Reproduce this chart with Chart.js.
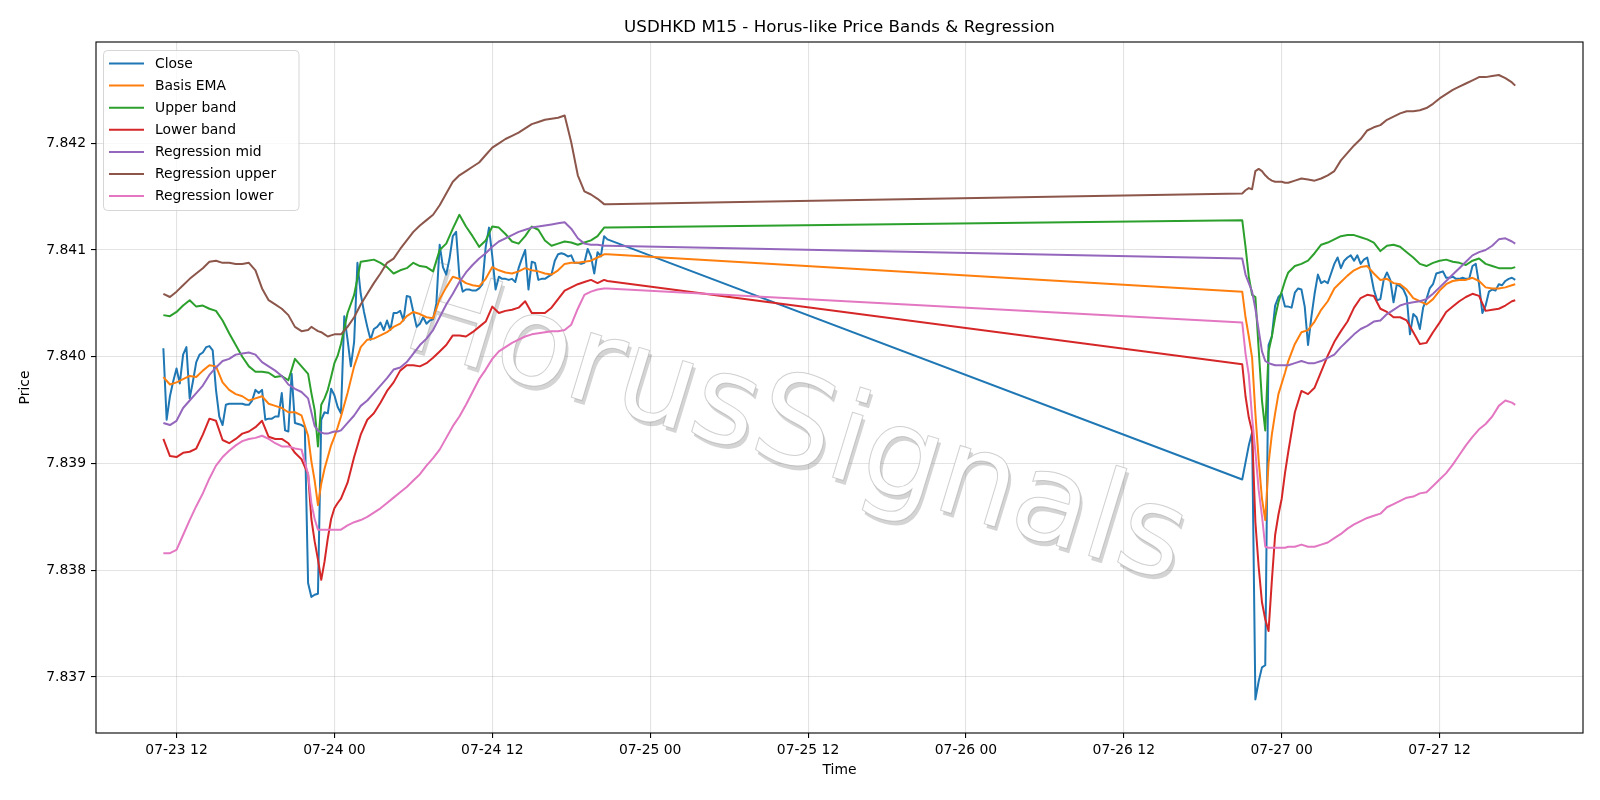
<!DOCTYPE html>
<html>
<head>
<meta charset="utf-8">
<script src="https://cdn.jsdelivr.net/npm/chart.js@4.4.1/dist/chart.umd.min.js"></script>
<style>html,body{margin:0;padding:0;background:#fff}canvas{display:block}</style>
</head>
<body>
<canvas id="c" width="1600" height="800" style="width:1600px;height:800px"></canvas>
<script>
// ---------- texts ----------
const titleText = 'USDHKD M15 - Horus-like Price Bands & Regression';
const xAxisTitle = 'Time';
const yAxisTitle = 'Price';
const watermarkText = 'HorusSignals';
const seriesNames = ['Close','Basis EMA','Upper band','Lower band','Regression mid','Regression upper','Regression lower'];

// ---------- axis ticks (x in hours since 07-23 00:00) ----------
const tickHours = [12,24,36,48,60,72,84,96,108];
const tickLabels = ['07-23 12','07-24 00','07-24 12','07-25 00','07-25 12','07-26 00','07-26 12','07-27 00','07-27 12'];
const priceTicks = [7.837,7.838,7.839,7.840,7.841,7.842];

// ---------- Close (15-minute bars) ----------
const closeHours = [
 11,11.25,11.5,11.75,12,12.25,12.5,12.75,13,13.25,13.5,13.75,14,14.25,14.5,14.75,15,15.25,15.5,15.75,16,16.25,16.5,16.75,
 17,17.25,17.5,17.75,18,18.25,18.5,18.75,19,19.25,19.5,19.75,20,20.25,20.5,20.75,21,21.25,21.5,21.75,22,22.25,22.5,22.75,
 23,23.25,23.5,23.75,24,24.25,24.5,24.75,25,25.25,25.5,25.75,26,26.25,26.5,26.75,27,27.25,27.5,27.75,28,28.25,28.5,28.75,
 29,29.25,29.5,29.75,30,30.25,30.5,30.75,31,31.25,31.5,31.75,32,32.25,32.5,32.75,33,33.25,33.5,33.75,34,34.25,34.5,34.75,
 35,35.25,35.5,35.75,36,36.25,36.5,36.75,37,37.25,37.5,37.75,38,38.25,38.5,38.75,39,39.25,39.5,39.75,40,40.25,40.5,40.75,
 41,41.25,41.5,41.75,42,42.25,42.5,42.75,43,43.25,43.5,43.75,44,44.25,44.5,44.75,
 93,93.25,93.5,93.75,94,94.25,94.5,94.75,95,95.25,95.5,95.75,96,96.25,96.5,96.75,97,97.25,97.5,97.75,98,98.25,98.5,98.75,
 99,99.25,99.5,99.75,100,100.25,100.5,100.75,101,101.25,101.5,101.75,102,102.25,102.5,102.75,103,103.25,103.5,103.75,104,104.25,104.5,104.75,
 105,105.25,105.5,105.75,106,106.25,106.5,106.75,107,107.25,107.5,107.75,108,108.25,108.5,108.75,109,109.25,109.5,109.75,110,110.25,110.5,110.75,
 111,111.25,111.5,111.75,112,112.25,112.5,112.75,113,113.25,113.5,113.75
];
const closePrice = [
 7.84008,7.83941,7.83963,7.83977,7.83989,7.83975,7.84002,7.84009,7.83961,7.83977,7.83995,7.84002,7.84004,7.84009,7.84010,7.84006,7.83969,7.83944,7.83936,7.83955,7.83956,7.83956,7.83956,7.83956,
 7.83956,7.83955,7.83955,7.83959,7.83969,7.83966,7.83969,7.83941,7.83942,7.83942,7.83944,7.83944,7.83966,7.83931,7.83930,7.83984,7.83938,7.83937,7.83936,7.83934,7.83788,7.83775,7.83777,7.83778,
 7.83941,7.83948,7.83947,7.83970,7.83964,7.83953,7.83947,7.84038,7.84016,7.83991,7.84014,7.84088,7.84059,7.84042,7.84028,7.84016,7.84026,7.84028,7.84032,7.84025,7.84034,7.84025,7.84041,7.84041,
 7.84043,7.84034,7.84057,7.84056,7.84042,7.84028,7.84031,7.84037,7.84031,7.84034,7.84035,7.84050,7.84105,7.84084,7.84077,7.84092,7.84113,7.84117,7.84075,7.84061,7.84063,7.84063,7.84062,7.84062,
 7.84064,7.84068,7.84103,7.84121,7.84094,7.84063,7.84075,7.84073,7.84073,7.84072,7.84073,7.84070,7.84083,7.84092,7.84100,7.84063,7.84089,7.84088,7.84072,7.84073,7.84073,7.84075,7.84077,7.84090,
 7.84096,7.84097,7.84096,7.84094,7.84095,7.84088,7.84088,7.84087,7.84088,7.84101,7.84094,7.84078,7.84098,7.84094,7.84113,7.84110,
 7.83885,7.83901,7.83917,7.83929,7.83679,7.83696,7.83709,7.83711,7.84011,7.84019,7.84048,7.84056,7.84059,7.84047,7.84047,7.84046,7.84060,7.84064,7.84063,7.84047,7.84011,7.84037,7.84059,7.84077,
 7.84069,7.84071,7.84069,7.84078,7.84087,7.84093,7.84083,7.84090,7.84093,7.84095,7.84090,7.84095,7.84087,7.84091,7.84093,7.84079,7.84063,7.84053,7.84054,7.84072,7.84079,7.84072,7.84051,7.84068,
 7.84066,7.84063,7.84056,7.84021,7.84040,7.84037,7.84026,7.84046,7.84054,7.84064,7.84068,7.84078,7.84079,7.84080,7.84074,7.84074,7.84075,7.84073,7.84073,7.84074,7.84073,7.84073,7.84085,7.84087,
 7.84068,7.84041,7.84048,7.84061,7.84063,7.84062,7.84068,7.84067,7.84071,7.84073,7.84074,7.84072
];

// ---------- bands & regression (sampled times) ----------
const bandHours = [
 11,11.5,12,12.5,13,13.5,14,14.5,15,15.5,16,16.5,17,17.5,18,18.5,19,19.5,20,20.5,21,21.5,22,
 22.25,22.5,22.75,23,23.25,23.5,23.75,24,24.25,24.5,
 25,25.5,26,26.5,27,27.5,28,28.5,29,29.5,30,30.5,31,31.5,32,32.5,33,33.5,34,34.5,35,35.5,36,36.5,37,37.5,38,38.5,39,39.5,40,40.5,41,41.5,42,42.5,43,43.5,44,44.5,44.75,
 93,93.25,93.5,93.75,94,94.25,94.5,94.75,95,95.25,95.5,95.75,96,96.25,96.5,
 97,97.5,98,98.5,99,99.5,100,100.5,101,101.5,102,102.5,103,103.5,104,104.5,105,105.5,106,106.5,107,107.5,108,108.5,109,109.5,110,110.5,111,111.5,112,112.5,113,113.5,113.75
];
const basisEma = [
 7.83981,7.83974,7.83976,7.83979,7.83982,7.83981,7.83987,7.83992,7.83991,7.83976,7.83969,7.83965,7.83963,7.83959,7.83961,7.83963,7.83956,7.83954,7.83952,7.83948,7.83948,7.83945,7.83926,
 7.83902,7.83884,7.83861,7.83881,7.83895,7.83906,7.83917,7.83925,7.83934,7.83944,
 7.83966,7.83991,7.84009,7.84016,7.84017,7.84020,7.84023,7.84028,7.84031,7.84038,7.84042,7.84040,7.84037,7.84036,7.84054,7.84065,7.84075,7.84073,7.84069,7.84067,7.84066,7.84073,7.84084,7.84081,7.84079,7.84078,7.84080,7.84083,7.84081,7.84080,7.84078,7.84077,7.84081,7.84087,7.84088,7.84088,7.84089,7.84090,7.84093,7.84096,7.84096,
 7.84061,7.84037,7.84019,7.83999,7.83947,7.83903,7.83867,7.83847,7.83900,7.83927,7.83947,7.83965,7.83975,7.83985,7.83996,
 7.84012,7.84023,7.84025,7.84033,7.84044,7.84052,7.84064,7.84070,7.84076,7.84081,7.84084,7.84085,7.84078,7.84072,7.84073,7.84069,7.84068,7.84063,7.84055,7.84052,7.84049,7.84054,7.84062,7.84068,7.84071,7.84072,7.84072,7.84074,7.84071,7.84065,7.84064,7.84064,7.84065,7.84067,7.84068
];
const upperBand = [
 7.84039,7.84038,7.84042,7.84048,7.84053,7.84047,7.84048,7.84045,7.84043,7.84034,7.84022,7.84011,7.84000,7.83991,7.83986,7.83986,7.83985,7.83981,7.83982,7.83978,7.83998,7.83991,7.83984,
 7.83966,7.83950,7.83916,7.83955,7.83961,7.83969,7.83981,7.83994,7.84001,7.84012,
 7.84041,7.84058,7.84089,7.84090,7.84091,7.84088,7.84084,7.84078,7.84081,7.84083,7.84088,7.84085,7.84084,7.84080,7.84100,7.84106,7.84120,7.84133,7.84122,7.84113,7.84103,7.84109,7.84122,7.84121,7.84115,7.84108,7.84106,7.84113,7.84122,7.84119,7.84109,7.84104,7.84106,7.84108,7.84107,7.84105,7.84107,7.84109,7.84113,7.84121,7.84121,
 7.84128,7.84103,7.84075,7.84058,7.84056,7.84007,7.83959,7.83931,7.84005,7.84019,7.84037,7.84051,7.84061,7.84071,7.84079,
 7.84085,7.84087,7.84090,7.84097,7.84105,7.84107,7.84110,7.84113,7.84114,7.84114,7.84112,7.84110,7.84107,7.84099,7.84104,7.84105,7.84103,7.84098,7.84093,7.84087,7.84085,7.84088,7.84090,7.84091,7.84089,7.84088,7.84086,7.84090,7.84092,7.84087,7.84085,7.84083,7.84083,7.84083,7.84084
];
const lowerBand = [
 7.83923,7.83907,7.83906,7.83910,7.83911,7.83914,7.83927,7.83942,7.83940,7.83922,7.83919,7.83923,7.83928,7.83930,7.83934,7.83940,7.83925,7.83923,7.83923,7.83919,7.83910,7.83904,7.83890,
 7.83848,7.83827,7.83810,7.83791,7.83808,7.83830,7.83848,7.83858,7.83863,7.83867,
 7.83882,7.83906,7.83927,7.83941,7.83947,7.83957,7.83968,7.83976,7.83987,7.83992,7.83992,7.83991,7.83994,7.83999,7.84005,7.84011,7.84020,7.84020,7.84019,7.84023,7.84028,7.84033,7.84047,7.84041,7.84043,7.84044,7.84046,7.84052,7.84041,7.84041,7.84041,7.84046,7.84054,7.84062,7.84065,7.84068,7.84070,7.84072,7.84069,7.84072,7.84071,
 7.83993,7.83963,7.83943,7.83930,7.83845,7.83803,7.83770,7.83754,7.83743,7.83790,7.83833,7.83852,7.83867,7.83891,7.83911,
 7.83948,7.83968,7.83965,7.83971,7.83986,7.84001,7.84014,7.84024,7.84033,7.84046,7.84055,7.84058,7.84057,7.84045,7.84042,7.84037,7.84037,7.84034,7.84023,7.84012,7.84013,7.84023,7.84032,7.84042,7.84047,7.84052,7.84056,7.84059,7.84057,7.84043,7.84044,7.84045,7.84048,7.84052,7.84053
];
const regMid = [
 7.83938,7.83936,7.83940,7.83952,7.83959,7.83966,7.83973,7.83983,7.83990,7.83996,7.83998,7.84002,7.84003,7.84004,7.84002,7.83995,7.83991,7.83987,7.83982,7.83974,7.83970,7.83967,7.83961,
 7.83948,7.83935,7.83931,7.83929,7.83928,7.83928,7.83929,7.83930,7.83930,7.83931,
 7.83938,7.83945,7.83954,7.83959,7.83966,7.83973,7.83980,7.83988,7.83990,7.83995,7.84003,7.84011,7.84017,7.84025,7.84037,7.84049,7.84059,7.84070,7.84079,7.84086,7.84092,7.84097,7.84103,7.84108,7.84111,7.84114,7.84117,7.84119,7.84121,7.84122,7.84123,7.84124,7.84125,7.84126,7.84120,7.84111,7.84106,7.84105,7.84105,7.84104,7.84104,
 7.84092,7.84077,7.84069,7.84061,7.84045,7.84025,7.84005,7.83996,7.83994,7.83993,7.83992,7.83992,7.83992,7.83992,7.83992,
 7.83994,7.83996,7.83994,7.83994,7.83996,7.83999,7.84002,7.84009,7.84015,7.84021,7.84026,7.84029,7.84033,7.84034,7.84040,7.84044,7.84048,7.84050,7.84051,7.84052,7.84054,7.84059,7.84065,7.84071,7.84077,7.84083,7.84089,7.84095,7.84098,7.84100,7.84104,7.84110,7.84111,7.84108,7.84106
];
const regUpper = [
 7.84059,7.84056,7.84061,7.84067,7.84073,7.84078,7.84083,7.84089,7.84090,7.84088,7.84088,7.84087,7.84087,7.84088,7.84081,7.84064,7.84053,7.84049,7.84045,7.84039,7.84028,7.84024,7.84025,
 7.84028,7.84026,7.84024,7.84023,7.84021,7.84019,7.84020,7.84021,7.84021,7.84021,
 7.84028,7.84037,7.84049,7.84059,7.84069,7.84078,7.84088,7.84092,7.84101,7.84109,7.84117,7.84123,7.84128,7.84133,7.84142,7.84153,7.84164,7.84170,7.84174,7.84178,7.84182,7.84189,7.84196,7.84200,7.84204,7.84207,7.84210,7.84214,7.84218,7.84220,7.84222,7.84223,7.84224,7.84226,7.84201,7.84170,7.84155,7.84152,7.84148,7.84143,7.84143,
 7.84153,7.84156,7.84158,7.84157,7.84174,7.84176,7.84174,7.84170,7.84167,7.84165,7.84164,7.84164,7.84164,7.84163,7.84163,
 7.84165,7.84167,7.84166,7.84165,7.84167,7.84170,7.84174,7.84184,7.84191,7.84198,7.84204,7.84212,7.84215,7.84217,7.84222,7.84225,7.84228,7.84230,7.84230,7.84231,7.84233,7.84237,7.84242,7.84246,7.84250,7.84253,7.84256,7.84259,7.84262,7.84262,7.84263,7.84264,7.84261,7.84257,7.84254
];
const regLower = [
 7.83816,7.83816,7.83819,7.83833,7.83847,7.83860,7.83872,7.83886,7.83898,7.83906,7.83912,7.83917,7.83921,7.83923,7.83924,7.83926,7.83923,7.83919,7.83916,7.83916,7.83914,7.83913,7.83890,
 7.83863,7.83848,7.83838,7.83838,7.83838,7.83838,7.83838,7.83838,7.83838,7.83838,
 7.83842,7.83845,7.83847,7.83850,7.83854,7.83858,7.83863,7.83868,7.83873,7.83878,7.83884,7.83890,7.83898,7.83905,7.83913,7.83924,7.83935,7.83944,7.83955,7.83967,7.83979,7.83988,7.83998,7.84005,7.84009,7.84013,7.84016,7.84019,7.84021,7.84022,7.84023,7.84024,7.84024,7.84025,7.84030,7.84045,7.84058,7.84061,7.84063,7.84064,7.84064,
 7.84032,7.84003,7.83983,7.83943,7.83911,7.83875,7.83851,7.83822,7.83821,7.83821,7.83821,7.83821,7.83821,7.83821,7.83822,
 7.83822,7.83824,7.83822,7.83822,7.83824,7.83826,7.83830,7.83834,7.83839,7.83843,7.83846,7.83849,7.83851,7.83853,7.83859,7.83862,7.83865,7.83868,7.83869,7.83872,7.83873,7.83879,7.83885,7.83891,7.83899,7.83908,7.83917,7.83925,7.83932,7.83937,7.83944,7.83954,7.83959,7.83957,7.83955
];

const seriesColors = ['#1f77b4','#ff7f0e','#2ca02c','#d62728','#9467bd','#8c564b','#e377c2'];

// ---------- sanity ----------
if (closeHours.length !== closePrice.length) throw new Error('close length ' + closeHours.length + ' vs ' + closePrice.length);
[basisEma, upperBand, lowerBand, regMid, regUpper, regLower].forEach((a, i) => {
  if (a.length !== bandHours.length) throw new Error('series ' + i + ' length ' + a.length + ' vs ' + bandHours.length);
});

const pairs = (hrs, vals) => hrs.map((h, i) => ({ x: h, y: vals[i] }));
const seriesData = [
  pairs(closeHours, closePrice), pairs(bandHours, basisEma), pairs(bandHours, upperBand), pairs(bandHours, lowerBand),
  pairs(bandHours, regMid), pairs(bandHours, regUpper), pairs(bandHours, regLower)
];

const FONT = '"DejaVu Sans", "Liberation Sans", sans-serif';

const decorPlugin = {
  id: 'decor',
  beforeDatasetsDraw(chart) {
    const ctx = chart.ctx;
    ctx.save();
    ctx.translate(795, 432);
    ctx.rotate(17 * Math.PI / 180);
    ctx.font = '124px ' + FONT;
    ctx.textAlign = 'center';
    ctx.textBaseline = 'middle';
    ctx.fillStyle = 'rgba(120,120,120,0.32)';
    ctx.fillText(watermarkText, 3.5, 3.5);
    ctx.fillStyle = '#ffffff';
    ctx.fillText(watermarkText, 0, 0);
    ctx.lineWidth = 1;
    ctx.strokeStyle = 'rgba(150,150,150,0.45)';
    ctx.strokeText(watermarkText, 0, 0);
    ctx.restore();
  },
  afterDatasetsDraw(chart) {
    const ctx = chart.ctx, a = chart.chartArea;
    ctx.save();
    ctx.strokeStyle = '#000';
    ctx.lineWidth = 1.1;
    ctx.strokeRect(a.left, a.top, a.right - a.left, a.bottom - a.top);
    ctx.restore();
  },
  afterDraw(chart) {
    const ctx = chart.ctx, a = chart.chartArea;
    ctx.save();
    ctx.fillStyle = '#000';
    ctx.textAlign = 'center';
    ctx.textBaseline = 'middle';
    ctx.font = '16.7px ' + FONT;
    ctx.fillText(titleText, (a.left + a.right) / 2, 27.5);
    ctx.font = '13.9px ' + FONT;
    ctx.fillText(xAxisTitle, (a.left + a.right) / 2, 770);
    ctx.save();
    ctx.translate(25.5, (a.top + a.bottom) / 2);
    ctx.rotate(-Math.PI / 2);
    ctx.fillText(yAxisTitle, 0, 0);
    ctx.restore();

    // legend
    const bx = 103.5, by = 50.5, bw = 195.5, bh = 160;
    ctx.beginPath();
    ctx.roundRect(bx, by, bw, bh, 4);
    ctx.fillStyle = 'rgba(255,255,255,0.8)';
    ctx.fill();
    ctx.strokeStyle = 'rgba(204,204,204,0.8)';
    ctx.lineWidth = 1;
    ctx.stroke();
    ctx.textAlign = 'left';
    ctx.font = '13.9px ' + FONT;
    seriesNames.forEach((name, i) => {
      const y = 63.5 + i * 22.1;
      ctx.strokeStyle = seriesColors[i];
      ctx.lineWidth = 2;
      ctx.beginPath();
      ctx.moveTo(109, y);
      ctx.lineTo(144, y);
      ctx.stroke();
      ctx.fillStyle = '#000';
      ctx.fillText(name, 155, y + 0.5);
    });
    ctx.restore();
  }
};

const datasets = seriesNames.map((name, i) => ({
  label: name,
  data: seriesData[i],
  borderColor: seriesColors[i],
  backgroundColor: seriesColors[i],
  borderWidth: 2,
  pointRadius: 0,
  fill: false,
  tension: 0,
  borderJoinStyle: 'round',
  order: 7 - i
}));

new Chart(document.getElementById('c'), {
  type: 'line',
  data: { datasets },
  plugins: [decorPlugin],
  options: {
    responsive: false,
    animation: false,
    devicePixelRatio: 1,
    events: [],
    layout: { padding: { left: 0, top: 42, right: 17, bottom: 0 } },
    plugins: { legend: { display: false }, title: { display: false }, tooltip: { enabled: false } },
    scales: {
      x: {
        type: 'linear',
        min: 5.88,
        max: 118.9,
        afterBuildTicks: s => { s.ticks = tickHours.map(v => ({ value: v })); },
        afterFit: s => { s.height = 67; },
        ticks: {
          autoSkip: false, maxRotation: 0, minRotation: 0, padding: 4, color: '#000',
          font: { family: FONT, size: 13.9 },
          callback: v => tickLabels[tickHours.indexOf(v)]
        },
        grid: { color: 'rgba(176,176,176,0.35)', lineWidth: 1.1, drawTicks: true, tickLength: 5, tickColor: '#000', tickWidth: 1.1 },
        border: { display: false }
      },
      y: {
        type: 'linear',
        min: 7.836475,
        max: 7.842949,
        afterBuildTicks: s => { s.ticks = priceTicks.map(v => ({ value: v })); },
        afterFit: s => { s.width = 96; },
        ticks: {
          padding: 5, color: '#000',
          font: { family: FONT, size: 13.9 },
          callback: v => Number(v).toFixed(3)
        },
        grid: { color: 'rgba(176,176,176,0.35)', lineWidth: 1.1, drawTicks: true, tickLength: 5, tickColor: '#000', tickWidth: 1.1 },
        border: { display: false }
      }
    }
  }
});
</script>
</body>
</html>
